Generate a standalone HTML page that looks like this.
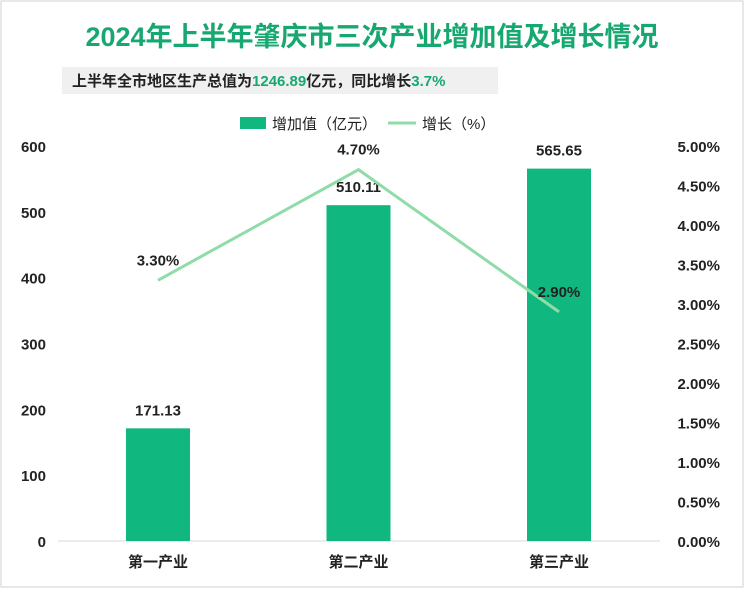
<!DOCTYPE html>
<html><head><meta charset="utf-8"><style>
body{margin:0;background:#fff;}
#c{position:relative;width:745px;height:589px;font-family:"Liberation Sans","Noto Sans CJK SC",sans-serif;}
</style></head><body>
<div id="c">
<svg id="s" width="745" height="589" xmlns="http://www.w3.org/2000/svg">
<rect x="1" y="1" width="742" height="586" fill="#fff" stroke="#d0d0d0"/>
<text x="372" y="46" text-anchor="middle" font-size="27" font-weight="bold" fill="#16a870" font-family="Liberation Sans, Noto Sans CJK SC, sans-serif">2024年上半年肇庆市三次产业增加值及增长情况</text>
<rect x="62" y="67" width="436" height="27" fill="#f0f0f0"/>
<text x="72" y="86" font-size="15" font-weight="bold" fill="#222" font-family="Liberation Sans, Noto Sans CJK SC, sans-serif">上半年全市地区生产总值为<tspan fill="#16a870">1246.89</tspan>亿元，同比增长<tspan fill="#16a870">3.7%</tspan></text>
<rect x="240" y="117" width="26" height="12" fill="#10b77f"/>
<text x="272" y="129" font-size="15" fill="#222" font-family="Liberation Sans, Noto Sans CJK SC, sans-serif">增加值（亿元）</text>
<line x1="388" y1="123" x2="416" y2="123" stroke="#8fdca8" stroke-width="3"/>
<text x="422" y="129" font-size="15" fill="#222" font-family="Liberation Sans, Noto Sans CJK SC, sans-serif">增长（%）</text>
<g id="g"></g>
</svg>
</div>
<script>
const categories=["第一产业","第二产业","第三产业"];
const values=[171.13,510.11,565.65];
const growth=[3.30,4.70,2.90];
const leftTicks=[0,100,200,300,400,500,600];
const rightTicks=[0,0.5,1,1.5,2,2.5,3,3.5,4,4.5,5];
const NS="http://www.w3.org/2000/svg";
const g=document.getElementById('g');
const y0=541,y1=146;
const yL=v=>y0-(v/600)*(y0-y1);
const yR=v=>y0-(v/5)*(y0-y1);
const xC=i=>158+i*200.5;
function mk(t,a,txt){const e=document.createElementNS(NS,t);for(const k in a)e.setAttribute(k,a[k]);if(txt!==undefined)e.textContent=txt;g.appendChild(e);return e;}
const F="Liberation Sans, Noto Sans CJK SC, sans-serif";
mk('line',{x1:58,y1:y0,x2:660,y2:y0,stroke:'#d9d9d9'});
leftTicks.forEach(v=>{const t=mk('text',{x:46,y:yL(v)+6,'text-anchor':'end','font-size':15,'font-weight':'bold',fill:'#222','font-family':F},String(v));
});
rightTicks.forEach(v=>{const t=mk('text',{x:720,y:yR(v)+6,'text-anchor':'end','font-size':15,'font-weight':'bold',fill:'#222','font-family':F},v.toFixed(2)+'%');
});
values.forEach((v,i)=>{const b=mk('rect',{x:xC(i)-32,y:yL(v),width:64,height:y0-yL(v),fill:'#10b77f'});

const l=mk('text',{x:xC(i),y:yL(v)-13,'text-anchor':'middle','font-size':15,'font-weight':'bold',fill:'#222','font-family':F},v.toFixed(2));

const c=mk('text',{x:xC(i),y:567,'text-anchor':'middle','font-size':15,'font-weight':'bold',fill:'#222','font-family':F},categories[i]);
});
const pl=mk('polyline',{points:growth.map((v,i)=>xC(i)+','+yR(v)).join(' '),fill:'none',stroke:'#8fdca8','stroke-width':3});

growth.forEach((v,i)=>{const t=mk('text',{x:xC(i),y:yR(v)-15,'text-anchor':'middle','font-size':15,'font-weight':'bold',fill:'#222','font-family':F},v.toFixed(2)+'%');
});
</script>
</body></html>
